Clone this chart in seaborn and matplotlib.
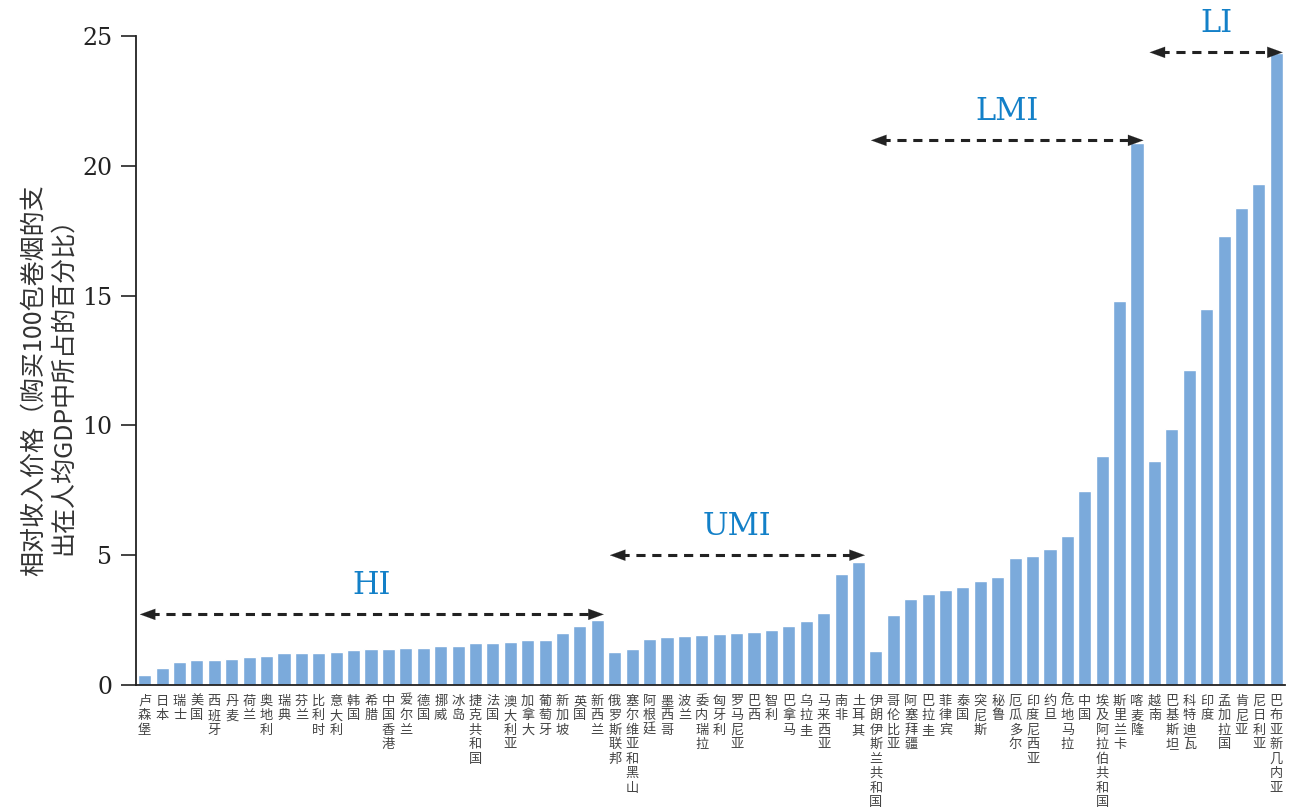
import matplotlib
matplotlib.use("Agg")
import matplotlib.pyplot as plt
import pandas as pd
import seaborn as sns

# 国家（按收入组）
hi_names = ["卢森堡", "日本", "瑞士", "美国", "西班牙", "丹麦", "荷兰", "奥地利", "瑞典", "芬兰",
            "比利时", "意大利", "韩国", "希腊", "中国香港", "爱尔兰", "德国", "挪威", "冰岛",
            "捷克共和国", "法国", "澳大利亚", "加拿大", "葡萄牙", "新加坡", "英国", "新西兰"]
hi_vals = [0.40, 0.67, 0.90, 0.98, 0.98, 1.02, 1.06, 1.13, 1.25, 1.25,
           1.25, 1.29, 1.33, 1.40, 1.40, 1.44, 1.44, 1.52, 1.52,
           1.60, 1.60, 1.67, 1.75, 1.75, 2.02, 2.29, 2.52]

umi_names = ["俄罗斯联邦", "塞尔维亚和黑山", "阿根廷", "墨西哥", "波兰", "委内瑞拉", "匈牙利",
             "罗马尼亚", "巴西", "智利", "巴拿马", "乌拉圭", "马来西亚", "南非", "土耳其"]
umi_vals = [1.29, 1.37, 1.79, 1.83, 1.87, 1.94, 1.98,
            2.02, 2.06, 2.13, 2.29, 2.48, 2.79, 4.29, 4.75]

lmi_names = ["伊朗伊斯兰共和国", "哥伦比亚", "阿塞拜疆", "巴拉圭", "菲律宾", "泰国", "突尼斯", "秘鲁",
             "厄瓜多尔", "印度尼西亚", "约旦", "危地马拉", "中国", "埃及阿拉伯共和国", "斯里兰卡", "喀麦隆"]
lmi_vals = [1.32, 2.70, 3.32, 3.51, 3.66, 3.78, 4.01, 4.16,
            4.89, 4.97, 5.24, 5.74, 7.48, 8.83, 14.80, 20.87]

li_names = ["越南", "巴基斯坦", "科特迪瓦", "印度", "孟加拉国", "肯尼亚", "尼日利亚", "巴布亚新几内亚"]
li_vals = [8.61, 9.88, 12.12, 14.47, 17.31, 18.39, 19.28, 24.33]

groups = ["HI", "UMI", "LMI", "LI"]
group_names = [hi_names, umi_names, lmi_names, li_names]
group_vals = [hi_vals, umi_vals, lmi_vals, li_vals]
arrow_y = [2.72, 5.0, 20.98, 24.37]  # 箭头所在高度

names = sum(group_names, [])
vals = sum(group_vals, [])
df = pd.DataFrame({"country": names, "value": vals})

sns.set_style("white")
plt.rcParams["font.family"] = ["Noto Sans CJK SC", "DejaVu Sans"]

fig = plt.figure(figsize=(12.94, 8.10), dpi=100)
ax = fig.add_axes([136 / 1294, 1 - 685 / 810, 1149 / 1294, 649 / 810])

sns.barplot(data=df, x="country", y="value", color="#7BAADB", saturation=1,
            width=0.75, ax=ax)

ax.set_xlim(-0.5, len(names) - 0.5)
ax.set_ylim(0, 25)
ax.set_xlabel("")

# 纵向排列的国家名
ax.set_xticks(range(len(names)))
ax.set_xticklabels(["\n".join(n) for n in names], fontsize=9.5, color="#444444",
                   linespacing=1.15, va="top")
ax.tick_params(axis="x", which="major", length=0, pad=7)
ax.set_xticks([i - 0.5 for i in range(len(names) + 1)], minor=True)
ax.tick_params(axis="x", which="minor", length=5, width=1.5, color="#222222", direction="out")

ax.set_yticks([0, 5, 10, 15, 20, 25])
ax.set_yticklabels(["0", "5", "10", "15", "20", "25"], family="DejaVu Serif", fontsize=17,
                   color="#222222")
ax.tick_params(axis="y", length=11, width=1.2, color="#222222", direction="out", pad=6, left=True)

for side in ["top", "right"]:
    ax.spines[side].set_visible(False)
for side in ["left", "bottom"]:
    ax.spines[side].set_color("#222222")
    ax.spines[side].set_linewidth(1.3)

ax.set_ylabel("相对收入价格（购买100包卷烟的支\n出在人均GDP中所占的百分比）", fontsize=18,
              color="#333333", linespacing=1.15)
ax.yaxis.set_label_coords(-0.052, 0.47)

# 收入组的双向虚线箭头
start = 0
for g, nm, y in zip(groups, group_names, arrow_y):
    x0 = start - 0.28
    x1 = start + len(nm) - 1 + 0.37
    ax.plot([x0 + 0.6, x1 - 0.6], [y, y], ls=(0, (3, 2.2)), lw=2.2, color="#222222",
            clip_on=False, zorder=4)
    for a, b in [(x0, x0 + 0.7), (x1, x1 - 0.7)]:
        ax.annotate("", xy=(a, y), xytext=(b, y),
                    arrowprops=dict(arrowstyle="-|>,head_length=1.1,head_width=0.4",
                                    color="#222222", lw=0.1, shrinkA=0, shrinkB=0),
                    annotation_clip=False, zorder=5)
    ax.text((x0 + x1) / 2, y + 1.1, g, ha="center", va="center", fontsize=22,
            family="DejaVu Serif", color="#1380C8", clip_on=False)
    start += len(nm)

fig.savefig("out.png", dpi=100)
